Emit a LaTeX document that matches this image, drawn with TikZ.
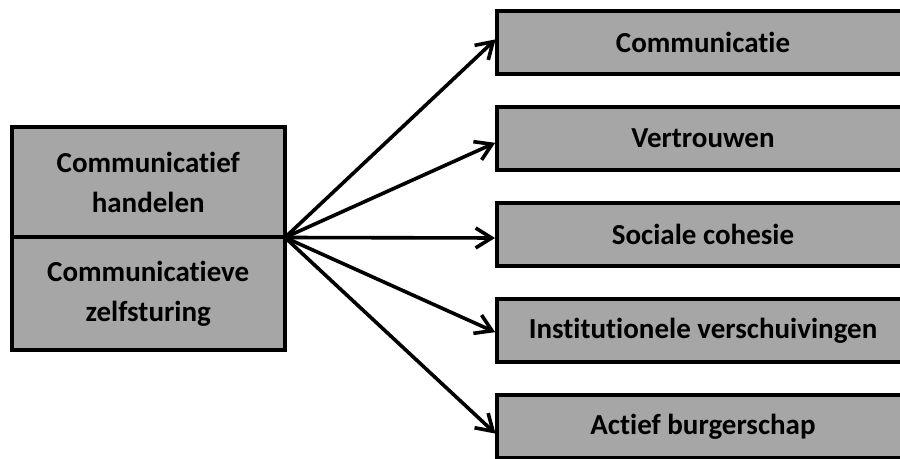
\documentclass[tikz,border=0pt]{standalone}
\usepackage{fontspec}
\setmainfont[Ligatures=NoCommon]{Carlito}
\usetikzlibrary{positioning,arrows.meta}
\definecolor{boxgray}{HTML}{A6A6A6}

\begin{document}
\begin{tikzpicture}[x=0.5pt,y=-0.5pt,->,>={Straight Barb[length=8pt,width=10pt]},shorten >=1pt,
                    line width=1.8pt,node distance=48pt,
                    box node/.style={rectangle,draw,line width=2pt,fill=boxgray,outer sep=0pt,
                                     font=\bfseries\fontsize{14.5}{20}\selectfont},
                    left node/.style={box node,minimum width=136.75pt,minimum height=55.25pt,align=center},
                    right node/.style={box node,minimum width=206pt,minimum height=31.5pt}]
	\path[use as bounding box,clip] (0,0) rectangle (900,459);

	\node[left node](hand) at (148.25,182.25){Communicatief\\handelen};
	\node[left node,minimum height=56.25pt,anchor=north](zelf) at (hand.south){Communicatieve\\zelfsturing};

	\node[right node](c1) at (703,42.5){Communicatie};
	\node[right node](c2)[below of=c1]{Vertrouwen};
	\node[right node](c3)[below of=c2]{Sociale cohesie};
	\node[right node](c4)[below of=c3]{Institutionele verschuivingen};
	\node[right node](c5)[below of=c4]{Actief burgerschap};

	\path (hand.south east) edge ([yshift=2.25pt]c1.west)
	 edge ([yshift=-1.75pt]c2.west)
	 edge ([yshift=-1.75pt]c3.west)
	 edge ([yshift=-1.25pt]c4.west)
	 edge ([yshift=-4.25pt]c5.west);
\end{tikzpicture}
\end{document}
